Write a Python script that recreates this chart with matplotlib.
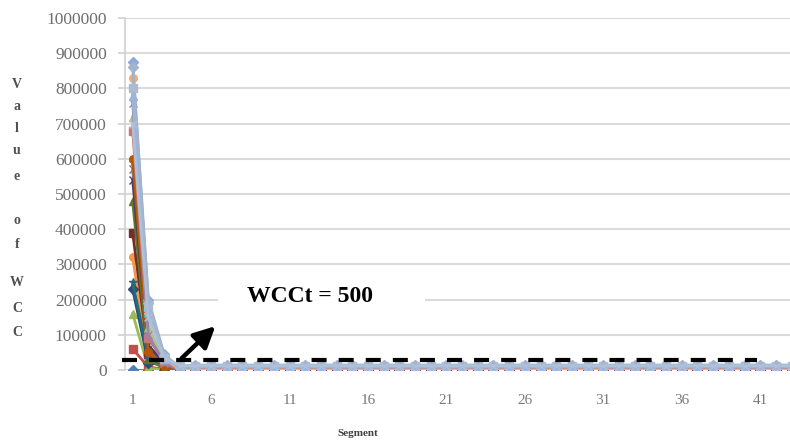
import numpy as np
import matplotlib.pyplot as plt
from matplotlib.patches import Rectangle

segments = np.arange(1, 45)
n_seg = len(segments)

series_head = [
    [0, 0, 0, 0],
    [60000, 8000, 2000, 0],
    [160000, 5000, 0, 0],
    [570000, 60000, 10000, 0],
    [590000, 40000, 5000, 0],
    [320000, 25000, 8000, 0],
    [230000, 20000, 15000, 2000],
    [390000, 45000, 10000, 0],
    [480000, 30000, 5000, 0],
    [540000, 70000, 20000, 3000],
    [250000, 35000, 15000, 2000],
    [600000, 50000, 12000, 0],
    [875000, 200000, 45000, 5000],
    [680000, 90000, 25000, 0],
    [720000, 120000, 30000, 2000],
    [760000, 100000, 20000, 0],
    [790000, 150000, 40000, 5000],
    [830000, 190000, 35000, 0],
    [860000, 190000, 40000, 10000],
    [800000, 180000, 35000, 12000],
    [780000, 170000, 30000, 10000],
    [700000, 150000, 35000, 12000],
]
series_tail = [0, 1000, 0, 3000, 6000, 0, 2000, 1000, 0, 3000, 5000, 0,
               12000, 2000, 4000, 2000, 9000, 0, 13000, 11000, 14000, 12000]

colors = ['#4F81BD', '#C0504D', '#9BBB59', '#8064A2', '#4BACC6', '#F79646',
          '#2C4D75', '#772C2A', '#5F7530', '#4D3B62', '#276A7C', '#B65708',
          '#8FAADC', '#CD7371', '#AFC97A', '#9983B5', '#6FBDD1', '#F9AB6B',
          '#A0B4CF', '#ABBBD0', '#9FB3D2', '#B0C0D8']
markers = ['D', 's', '^', 'x', '*', 'o'] * 4

threshold = 28000
yticks = np.arange(0, 1000001, 100000)
xticks = [1, 6, 11, 16, 21, 26, 31, 36, 41]

fig = plt.figure(figsize=(7.9, 4.42), dpi=100)
ax = fig.add_axes([0.158, 0.163, 0.842, 0.796])

for i, head in enumerate(series_head):
    vals = head + [series_tail[i]] * (n_seg - len(head))
    ax.plot(segments, vals, color=colors[i], marker=markers[i], markersize=5.5,
            lw=2, zorder=3)

ax.set_xlim(0.5, 42.9)
ax.set_ylim(0, 1000000)
ax.set_yticks(yticks)
ax.set_yticklabels([str(v) for v in yticks])
ax.set_xticks(xticks)
ax.grid(axis='y', color='#DADADA', lw=1.5, zorder=0)
ax.set_axisbelow(True)
for s in ['top', 'right', 'bottom']:
    ax.spines[s].set_visible(False)
ax.spines['left'].set_color('#D0D0D0')
ax.spines['left'].set_linewidth(1.2)
ax.tick_params(axis='y', length=5, color='#D0D0D0', width=1.2, pad=8,
               labelsize=12.5, labelcolor='#6E6E6E')
ax.tick_params(axis='x', length=0, pad=17, labelsize=11, labelcolor='#7A7A7A')
for lab in ax.get_xticklabels() + ax.get_yticklabels():
    lab.set_fontfamily('Liberation Serif')

# threshold line, white label box, arrow
ax.plot([0.35, 40.8], [threshold, threshold], color='black', lw=3,
        linestyle=(0, (3.6, 2.9)), zorder=5, clip_on=False)
ax.add_patch(Rectangle((0.14, 0.142), 0.311, 0.114, transform=ax.transAxes,
                       facecolor='white', edgecolor='none', zorder=1))
ax.text(12.3, 210000, 'WCCt = 500', fontsize=17, fontweight='bold',
        family='Liberation Serif', ha='center', va='center', zorder=6)
ax.annotate('', xy=(6.4, 130000), xytext=(4.0, 28000),
            arrowprops=dict(arrowstyle='-|>', lw=3.2, color='black',
                            mutation_scale=32), zorder=6)

# stacked vertical y label
letters = ['V', 'a', 'l', 'u', 'e', 'o', 'f', 'W', 'C', 'C']
ypix = [84, 107, 128, 150, 177, 220, 245, 283, 309, 332]
for ch, yp in zip(letters, ypix):
    fig.text(17 / 790, 1 - yp / 442, ch, fontsize=10, fontweight='bold',
             family='Liberation Serif', color='#505050', ha='center', va='center')

fig.text(358 / 790, 1 - 433 / 442, 'Segment', fontsize=8, fontweight='bold',
         family='Liberation Serif', color='#404040', ha='center', va='center')

fig.savefig('out.png', dpi=100)
